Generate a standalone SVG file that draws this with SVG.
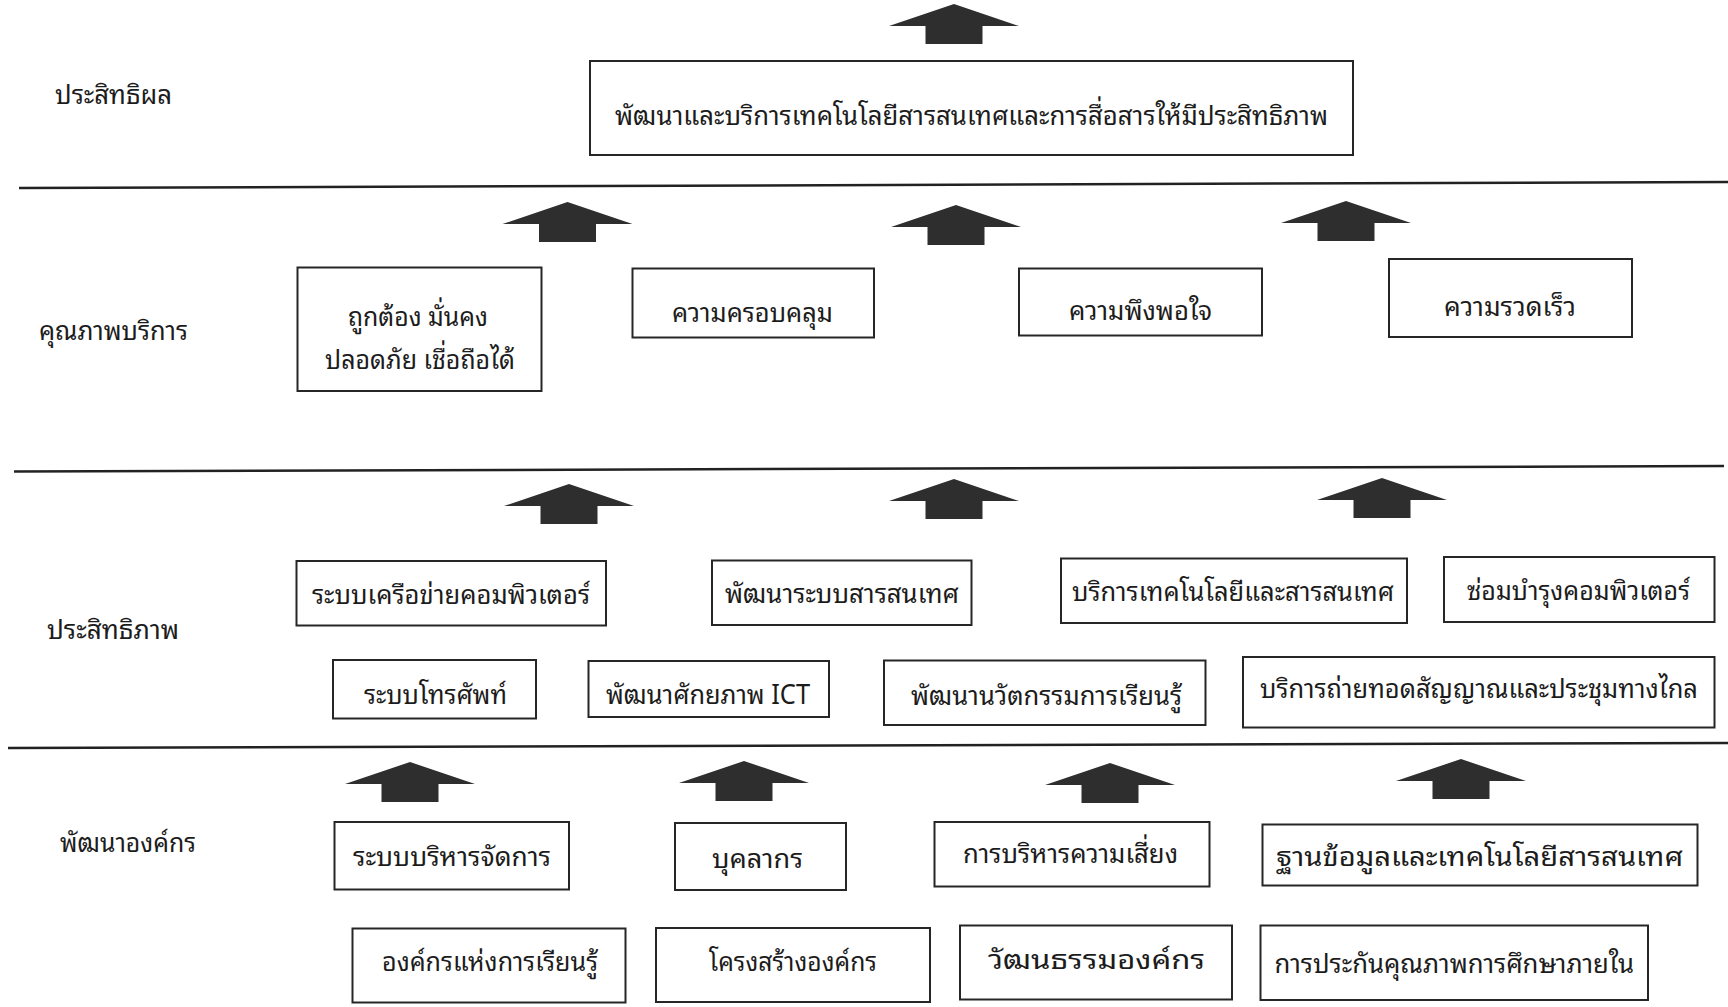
<svg xmlns="http://www.w3.org/2000/svg" xmlns:xlink="http://www.w3.org/1999/xlink" width="1728" height="1007" viewBox="0 0 1728 1007">
<style>
.bg{fill:#ffffff}
.sep{stroke:#222;stroke-width:2.5;fill:none}
.box{fill:#ffffff;stroke:#262626;stroke-width:2}
.t{font-family:"Noto Sans Thai Looped","Noto Serif Thai","Garuda","Loma","Sarabun","Noto Sans Thai","Noto Sans","Noto Sans CJK SC",sans-serif;font-size:27px;fill:#1c1c1c}
.arr{fill:#2e2e2e}
</style>
<defs>
<path id="arrow" d="M0,0 L65,22 L28.5,22 L28.5,40 L-28.5,40 L-28.5,22 L-65,22 Z"/>
</defs>
<rect class="bg" x="0" y="0" width="1728" height="1007"/>
<g id="separators">
<line class="sep" x1="19" y1="188" x2="1728" y2="182"/>
<line class="sep" x1="14" y1="471.5" x2="1724" y2="466"/>
<line class="sep" x1="8" y1="748" x2="1728" y2="743"/>
</g>
<g id="labels">
<text id="lbl-effectiveness" class="t" x="55" y="104" textLength="117" lengthAdjust="spacingAndGlyphs">ประสิทธิผล</text>
<text id="lbl-quality" class="t" x="39" y="340" textLength="149" lengthAdjust="spacingAndGlyphs">คุณภาพบริการ</text>
<text id="lbl-efficiency" class="t" x="47" y="639" textLength="132" lengthAdjust="spacingAndGlyphs">ประสิทธิภาพ</text>
<text id="lbl-org" class="t" x="60" y="852" textLength="136" lengthAdjust="spacingAndGlyphs">พัฒนาองค์กร</text>
</g>
<g id="connectors" class="arr">
<use xlink:href="#arrow" transform="translate(954,4)"/>
<use xlink:href="#arrow" transform="translate(567.5,202)"/>
<use xlink:href="#arrow" transform="translate(956,205)"/>
<use xlink:href="#arrow" transform="translate(1346,201)"/>
<use xlink:href="#arrow" transform="translate(569,484)"/>
<use xlink:href="#arrow" transform="translate(954,479)"/>
<use xlink:href="#arrow" transform="translate(1382,478)"/>
<use xlink:href="#arrow" transform="translate(410,762)"/>
<use xlink:href="#arrow" transform="translate(744,761)"/>
<use xlink:href="#arrow" transform="translate(1110,763)"/>
<use xlink:href="#arrow" transform="translate(1461,759)"/>
</g>
<g id="n-goal"><rect class="box" x="590" y="61" width="763" height="94"/><text class="t" x="615" y="125" textLength="713" lengthAdjust="spacingAndGlyphs">พัฒนาและบริการเทคโนโลยีสารสนเทศและการสื่อสารให้มีประสิทธิภาพ</text></g>
<g id="n-correct"><rect class="box" x="297.5" y="267.5" width="244" height="123.5"/><text class="t" x="348" y="326" textLength="140" lengthAdjust="spacingAndGlyphs">ถูกต้อง มั่นคง</text><text class="t" x="325" y="369" textLength="190" lengthAdjust="spacingAndGlyphs">ปลอดภัย เชื่อถือได้</text></g>
<g id="n-coverage"><rect class="box" x="632.5" y="268.5" width="241.5" height="69"/><text class="t" x="672" y="322" textLength="161" lengthAdjust="spacingAndGlyphs">ความครอบคลุม</text></g>
<g id="n-satisfaction"><rect class="box" x="1019" y="268.5" width="243" height="67"/><text class="t" x="1069" y="320" textLength="143" lengthAdjust="spacingAndGlyphs">ความพึงพอใจ</text></g>
<g id="n-speed"><rect class="box" x="1389" y="259" width="243" height="78"/><text class="t" x="1444" y="316" textLength="132" lengthAdjust="spacingAndGlyphs">ความรวดเร็ว</text></g>
<g id="n-network"><rect class="box" x="296.5" y="561" width="309.5" height="64.5"/><text class="t" x="312" y="604" textLength="278" lengthAdjust="spacingAndGlyphs">ระบบเครือข่ายคอมพิวเตอร์</text></g>
<g id="n-infosys"><rect class="box" x="712" y="560.5" width="259.5" height="64.5"/><text class="t" x="725" y="603" textLength="234" lengthAdjust="spacingAndGlyphs">พัฒนาระบบสารสนเทศ</text></g>
<g id="n-itservice"><rect class="box" x="1061" y="558.5" width="346" height="64.5"/><text class="t" x="1072" y="601" textLength="322" lengthAdjust="spacingAndGlyphs">บริการเทคโนโลยีและสารสนเทศ</text></g>
<g id="n-repair"><rect class="box" x="1444" y="557" width="270.5" height="65"/><text class="t" x="1467" y="600" textLength="223" lengthAdjust="spacingAndGlyphs">ซ่อมบำรุงคอมพิวเตอร์</text></g>
<g id="n-phone"><rect class="box" x="333" y="660" width="203" height="58.5"/><text class="t" x="364" y="704" textLength="143" lengthAdjust="spacingAndGlyphs">ระบบโทรศัพท์</text></g>
<g id="n-ict"><rect class="box" x="588.5" y="661" width="240.5" height="56"/><text class="t" x="606" y="704" textLength="204" lengthAdjust="spacingAndGlyphs">พัฒนาศักยภาพ ICT</text></g>
<g id="n-innovation"><rect class="box" x="884" y="660.5" width="321.5" height="64.5"/><text class="t" x="911" y="705" textLength="271" lengthAdjust="spacingAndGlyphs">พัฒนานวัตกรรมการเรียนรู้</text></g>
<g id="n-broadcast"><rect class="box" x="1243" y="657" width="471.5" height="70.5"/><text class="t" x="1260" y="698" textLength="438" lengthAdjust="spacingAndGlyphs">บริการถ่ายทอดสัญญาณและประชุมทางไกล</text></g>
<g id="n-management"><rect class="box" x="334.5" y="822" width="234.5" height="67.5"/><text class="t" x="353" y="866" textLength="198" lengthAdjust="spacingAndGlyphs">ระบบบริหารจัดการ</text></g>
<g id="n-personnel"><rect class="box" x="675" y="823" width="171" height="67"/><text class="t" x="712" y="868" textLength="91" lengthAdjust="spacingAndGlyphs">บุคลากร</text></g>
<g id="n-risk"><rect class="box" x="934.5" y="822" width="275" height="64.5"/><text class="t" x="963" y="863" textLength="215" lengthAdjust="spacingAndGlyphs">การบริหารความเสี่ยง</text></g>
<g id="n-database"><rect class="box" x="1262.5" y="824.5" width="435" height="61"/><text class="t" x="1276" y="866" textLength="407" lengthAdjust="spacingAndGlyphs">ฐานข้อมูลและเทคโนโลยีสารสนเทศ</text></g>
<g id="n-learning-org"><rect class="box" x="352.5" y="928.5" width="273" height="74"/><text class="t" x="382" y="971" textLength="216" lengthAdjust="spacingAndGlyphs">องค์กรแห่งการเรียนรู้</text></g>
<g id="n-structure"><rect class="box" x="656" y="928" width="274" height="74"/><text class="t" x="709" y="971" textLength="168" lengthAdjust="spacingAndGlyphs">โครงสร้างองค์กร</text></g>
<g id="n-culture"><rect class="box" x="960" y="925.5" width="272" height="74"/><text class="t" x="988" y="969" textLength="217" lengthAdjust="spacingAndGlyphs">วัฒนธรรมองค์กร</text></g>
<g id="n-qa"><rect class="box" x="1260.5" y="925.5" width="387.5" height="74.5"/><text class="t" x="1274.5" y="973" textLength="359.5" lengthAdjust="spacingAndGlyphs">การประกันคุณภาพการศึกษาภายใน</text></g>
</svg>
